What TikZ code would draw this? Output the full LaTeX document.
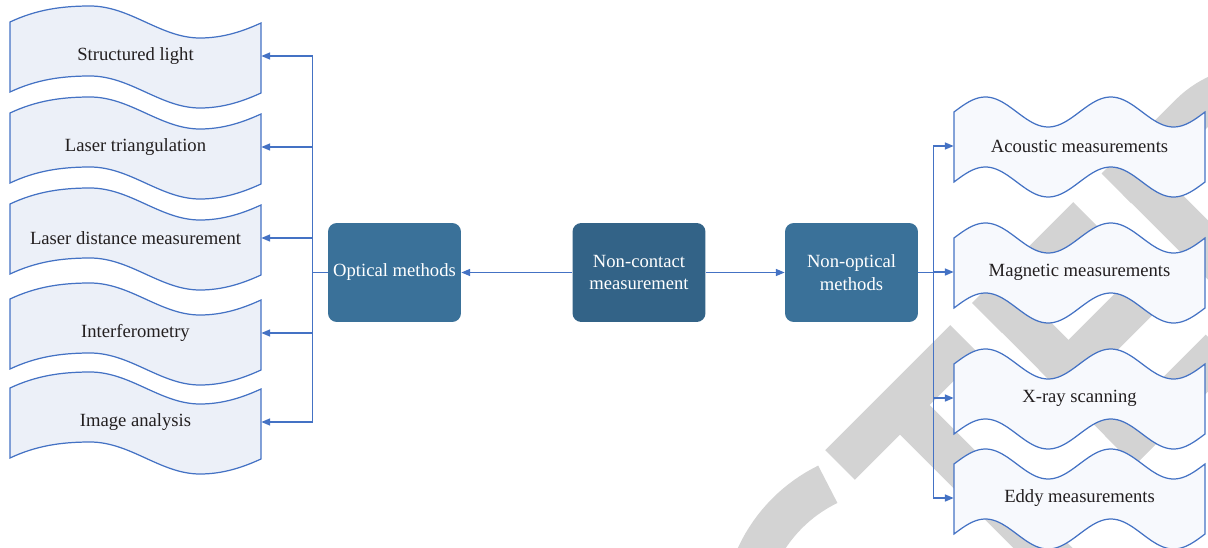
\documentclass[tikz,border=0pt]{standalone}
\usepackage{fontspec}
\setmainfont{Liberation Serif}
\usetikzlibrary{arrows.meta,positioning,calc,backgrounds}
\definecolor{linkblue}{RGB}{68,114,196}
\definecolor{tapefill}{RGB}{236,240,248}
\definecolor{wavefill}{RGB}{247,249,253}
\definecolor{methodblue}{RGB}{58,113,153}
\definecolor{rootblue}{RGB}{51,99,135}
\definecolor{wmgray}{RGB}{211,211,211}
\definecolor{labelgray}{RGB}{35,31,32}

\begin{document}
\begin{tikzpicture}[x=0.02cm,y=-0.02cm,
    font=\fontsize{10.6}{13}\selectfont,
    tapebox/.style={minimum width=5.02cm,minimum height=1.4cm,inner sep=0pt,text=labelgray},
    methodbox/.style={rounded corners=5pt,fill=methodblue,text=white,align=center,
      minimum width=2.66cm,minimum height=1.98cm,inner sep=2pt},
    rootbox/.style={methodbox,fill=rootblue},
    link/.style={draw=linkblue,line width=0.8pt},
    arrowlink/.style={link,-{Triangle[length=5pt,width=4pt]}},
    outline/.style={draw=linkblue,line width=0.7pt},
    wmstroke/.style={draw=wmgray,line width=0.84cm}
  ]
  \useasboundingbox (0,0) rectangle (1208,548);

  % optical side
  \node[tapebox] (structured) at (135.5,56) {Structured light};
  \node[tapebox] (lasertri) at (135.5,147) {Laser triangulation};
  \node[tapebox] (laserdist) at (135.5,238) {Laser distance measurement};
  \node[tapebox] (interfero) at (135.5,333) {Interferometry};
  \node[tapebox] (imageana) at (135.5,422) {Image analysis};

  % middle
  \node[methodbox] (optical) at (394.5,272.5) {Optical methods};
  \node[rootbox] (noncontact) at (639,272.5) {Non-contact\\measurement};
  \node[methodbox] (nonoptical) at (851.5,272.5) {Non-optical\\methods};

  % non-optical side
  \node[tapebox] (acoustic) at (1079.5,146) {Acoustic measurements};
  \node[tapebox] (magnetic) at (1079.5,272) {Magnetic measurements};
  \node[tapebox] (xray) at (1079.5,398) {X-ray scanning};
  \node[tapebox] (eddy) at (1079.5,498) {Eddy measurements};

  \draw[arrowlink] (noncontact) -- (optical);
  \draw[arrowlink] (noncontact) -- (nonoptical);

  \draw[link] (optical.west) -- ++(-15,0) coordinate (optbus);
  \draw[link] (optbus |- structured.east) -- (optbus |- imageana.east);
  \foreach \n in {structured,lasertri,laserdist,interfero,imageana}
    \draw[arrowlink] (optbus |- \n.east) -- (\n.east);

  \draw[link] (nonoptical.east) -- ++(15,0) coordinate (nonbus);
  \draw[link] (nonbus |- acoustic.west) -- (nonbus |- eddy.west);
  \foreach \n in {acoustic,magnetic,xray,eddy}
    \draw[arrowlink] (nonbus |- \n.west) -- (\n.west);

  \begin{scope}[on background layer]
    % watermark
    \begin{scope}
      \clip (0,0) rectangle (1208,548);
      \draw[wmstroke] plot[domain=116:210,samples=40] ({894+151*cos(\x)},{620-151*sin(\x)});
      \draw[wmstroke] (840,465) -- (965,340);
      \draw[wmstroke] (900,405) -- (1100,605);
      \draw[wmstroke] (987,288) -- (1149.5,450.5);
      \draw[wmstroke] (987,318) -- (1088,217);
      \draw[wmstroke] (1053.5,384.5) -- (1169,269);
      \draw[wmstroke] (1119.5,450.5) -- (1220.5,349.5);
      \draw[wmstroke] (1116.5,158.5) -- (1279,321);
      \draw[wmstroke] (1116.5,188.5) -- plot[domain=135:40,samples=30] ({1257+94*cos(\x)},{181-94*sin(\x)});
    \end{scope}
    % wavy outlines
    \foreach \n in {structured,lasertri,laserdist,interfero,imageana}
      \filldraw[outline,fill=tapefill,shift={(\n.center)}]
        (-125.5,-34) .. controls (-100,-46) and (-75,-50) .. (-45.5,-50)
        .. controls (-5,-50) and (25,-18) .. (64.5,-18)
        .. controls (88,-18) and (108,-25) .. (125.5,-33) -- (125.5,37)
        .. controls (108,45) and (88,52) .. (64.5,52)
        .. controls (25,52) and (-5,20) .. (-45.5,20)
        .. controls (-75,20) and (-100,24) .. (-125.5,36) -- cycle;
    \foreach \n in {acoustic,magnetic,xray,eddy}
      \filldraw[outline,fill=wavefill,shift={(\n.center)}]
        plot[domain=-125.5:125.5,samples=90] (\x,{-34-15*sin(2.8685*(\x+125.5))})
        -- plot[domain=125.5:-125.5,samples=90] (\x,{36-15*sin(2.8685*(\x+125.5))})
        -- cycle;
  \end{scope}
\end{tikzpicture}
\end{document}
